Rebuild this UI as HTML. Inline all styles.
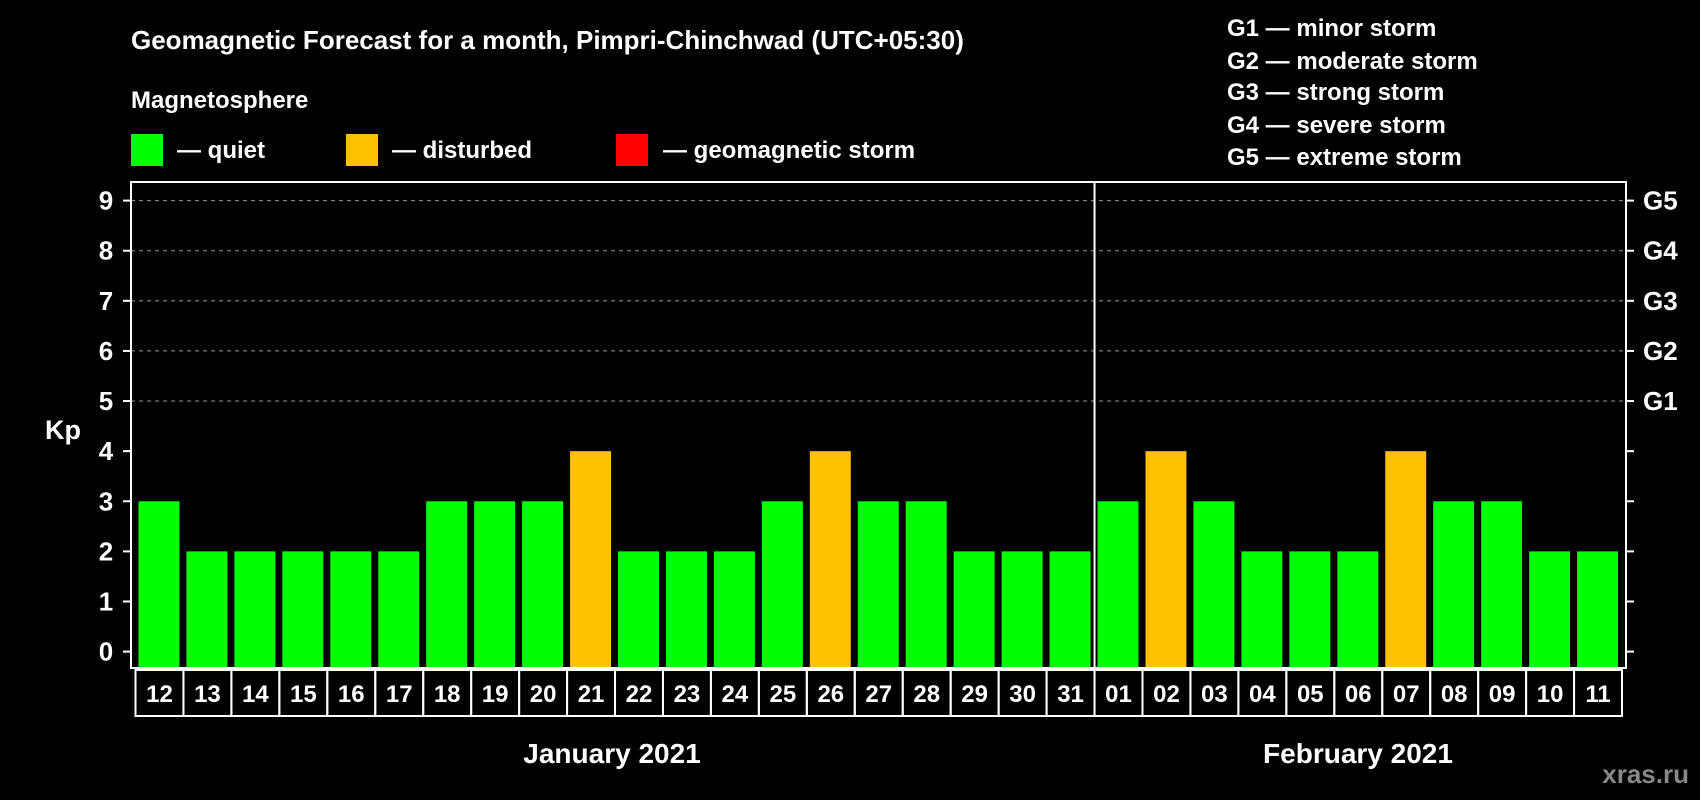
<!DOCTYPE html>
<html><head><meta charset="utf-8"><style>
html,body{margin:0;padding:0;background:#000;}
svg{display:block;font-family:"Liberation Sans",sans-serif;font-weight:bold;}
</style></head><body>
<svg id="c" width="1700" height="800" viewBox="0 0 1700 800">
<text x="131" y="49" fill="#fff" font-size="26">Geomagnetic Forecast for a month, Pimpri-Chinchwad (UTC+05:30)</text>
<text x="131" y="108" fill="#fff" font-size="24">Magnetosphere</text>
<g><rect x="131" y="134" width="32" height="32" fill="#00ff00"/><text x="177" y="158" fill="#fff" font-size="24">— quiet</text></g>
<g><rect x="346" y="134" width="32" height="32" fill="#ffc000"/><text x="392" y="158" fill="#fff" font-size="24">— disturbed</text></g>
<g><rect x="616" y="134" width="32" height="32" fill="#ff0000"/><text x="663" y="158" fill="#fff" font-size="24">— geomagnetic storm</text></g>
<g fill="#fff" font-size="24">
<text x="1227" y="36">G1 — minor storm</text>
<text x="1227" y="69">G2 — moderate storm</text>
<text x="1227" y="100">G3 — strong storm</text>
<text x="1227" y="133">G4 — severe storm</text>
<text x="1227" y="165">G5 — extreme storm</text>
</g>
<text x="63" y="439" fill="#fff" font-size="27" text-anchor="middle">Kp</text>
<text x="612" y="763" fill="#fff" font-size="28" text-anchor="middle">January 2021</text>
<text x="1358" y="763" fill="#fff" font-size="28" text-anchor="middle">February 2021</text>
<text x="1689" y="783" fill="#888" font-size="26" text-anchor="end">xras.ru</text>
<g id="plot"></g>
</svg>
<script>
const days=["12","13","14","15","16","17","18","19","20","21","22","23","24","25","26","27","28","29","30","31","01","02","03","04","05","06","07","08","09","10","11"];
const kp=[3,2,2,2,2,2,3,3,3,4,2,2,2,3,4,3,3,2,2,2,3,4,3,2,2,2,4,3,3,2,2];
const yTicks=["0","1","2","3","4","5","6","7","8","9"];
const gLabels=["G1","G2","G3","G4","G5"];
const monthSplit=20;
const NS="http://www.w3.org/2000/svg";
const g=document.getElementById('plot');
const L=131,R=1626,T=182,B=668,x0=135.5,cw=(1622-135.5)/days.length;
const y=v=>651.6-v*(651.6-200.6)/9;
const x=i=>x0+i*cw;
function mk(t,a){const e=document.createElementNS(NS,t);for(const k in a)e.setAttribute(k,a[k]);g.appendChild(e);return e;}
// gridlines
for(let v=5;v<=9;v++){const e=mk('line',{x1:L,x2:R,y1:y(v),y2:y(v),stroke:'#999','stroke-dasharray':'4,4','stroke-width':1});

}
// bars
kp.forEach((v,i)=>{const c=v>=5?'#ff0000':(v>=4?'#ffc000':'#00ff00');
const e=mk('rect',{x:x(i)+3,y:y(v),width:cw-7,height:B-y(v)-1,fill:c});

});
// frame
const f=mk('rect',{x:L,y:T,width:R-L,height:B-T,fill:'none',stroke:'#fff','stroke-width':2});


const sp=mk('line',{x1:x(monthSplit),x2:x(monthSplit),y1:T,y2:B,stroke:'#fff','stroke-width':2});


// ticks
yTicks.forEach((t,i)=>{const v=+t;
mk('line',{x1:L-8,x2:L,y1:y(v),y2:y(v),stroke:'#fff','stroke-width':2});
mk('line',{x1:R,x2:R+8,y1:y(v),y2:y(v),stroke:'#fff','stroke-width':2});
const e=mk('text',{x:106,y:y(v)+9,fill:'#fff','font-size':26,'text-anchor':'middle'});e.textContent=t;

});
gLabels.forEach((t,i)=>{const e=mk('text',{x:1643,y:y(5+i)+9,fill:'#fff','font-size':26});e.textContent=t;

});
// day boxes
days.forEach((d,i)=>{const r=mk('rect',{x:x(i),y:670,width:cw,height:46,fill:'none',stroke:'#fff','stroke-width':2});


const e=mk('text',{x:x(i)+cw/2,y:702,fill:'#fff','font-size':24,'text-anchor':'middle'});e.textContent=d;

});
</script>
</body></html>
